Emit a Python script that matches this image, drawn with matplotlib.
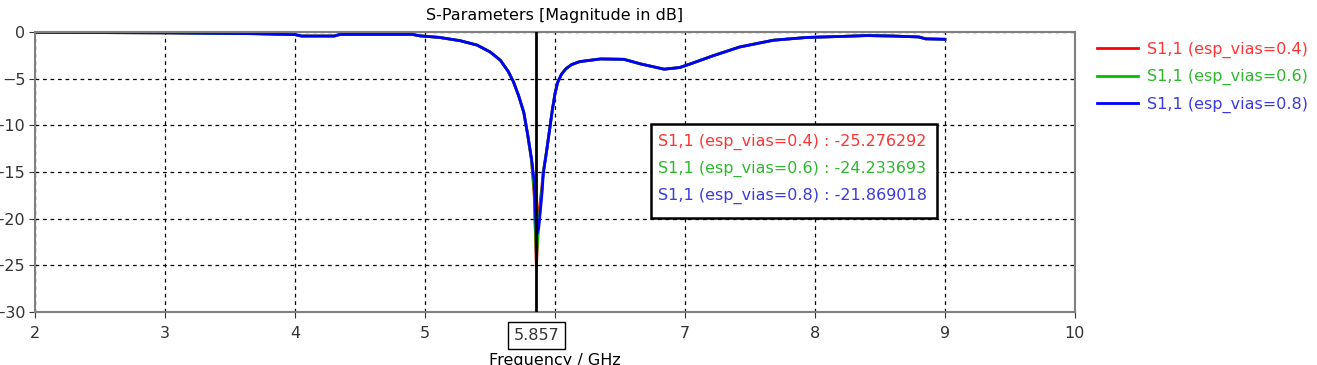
import numpy as np
import matplotlib
matplotlib.use("Agg")
import matplotlib.pyplot as plt
from matplotlib.patches import Rectangle

# frequency points (GHz) shared by the three sweeps
freq = [2.0, 2.5, 3.0, 3.3, 3.7, 4.0, 4.05, 4.3, 4.35, 4.9, 4.96, 5.11, 5.27,
        5.4, 5.5, 5.58, 5.64, 5.68, 5.72, 5.76, 5.79, 5.82, 5.84, 5.857, 5.875,
        5.9, 5.91, 5.935, 5.96, 5.98, 6.0, 6.02, 6.05, 6.085, 6.13, 6.19, 6.35,
        6.53, 6.66, 6.84, 6.96, 7.04, 7.22, 7.42, 7.68, 7.94, 8.19, 8.4, 8.6,
        8.8, 8.85, 9.0]

# |S11| in dB (the three sweeps only differ in the dip)
s11_04 = [0.0, -0.03, -0.06, -0.1, -0.15, -0.25, -0.4, -0.4, -0.22, -0.22,
          -0.38, -0.55, -0.9, -1.37, -2.1, -3.0, -4.2, -5.3, -6.8, -8.6, -11.0,
          -13.8, -17.5, -25.276292, -19.5, -16.5, -15.0, -12.8, -10.3, -8.3,
          -6.6, -5.4, -4.5, -3.9, -3.45, -3.15, -2.86, -2.9, -3.4, -3.96,
          -3.78, -3.4, -2.5, -1.58, -0.85, -0.55, -0.45, -0.35, -0.4, -0.5,
          -0.7, -0.75]
s11_06 = [0.0, -0.03, -0.06, -0.1, -0.15, -0.25, -0.4, -0.4, -0.22, -0.22,
          -0.38, -0.55, -0.9, -1.37, -2.1, -3.0, -4.2, -5.3, -6.8, -8.6, -11.0,
          -13.8, -17.0, -24.233693, -20.5, -16.8, -15.0, -12.8, -10.3, -8.3,
          -6.6, -5.4, -4.5, -3.9, -3.45, -3.15, -2.86, -2.9, -3.4, -3.96,
          -3.78, -3.4, -2.5, -1.58, -0.85, -0.55, -0.45, -0.35, -0.4, -0.5,
          -0.7, -0.75]
s11_08 = [0.0, -0.03, -0.06, -0.1, -0.15, -0.25, -0.4, -0.4, -0.22, -0.22,
          -0.38, -0.55, -0.9, -1.37, -2.1, -3.0, -4.2, -5.3, -6.8, -8.6, -11.0,
          -13.6, -16.0, -21.869018, -21.0, -17.3, -15.2, -12.8, -10.3, -8.3,
          -6.6, -5.4, -4.5, -3.9, -3.45, -3.15, -2.86, -2.9, -3.4, -3.96,
          -3.78, -3.4, -2.5, -1.58, -0.85, -0.55, -0.45, -0.35, -0.4, -0.5,
          -0.7, -0.75]

labels = ["S1,1 (esp_vias=0.4)", "S1,1 (esp_vias=0.6)", "S1,1 (esp_vias=0.8)"]
marker_values = [-25.276292, -24.233693, -21.869018]
marker_f = 5.857

line_colors = ["#ff0000", "#00c000", "#0000ff"]
text_colors = ["#ff3535", "#2db82d", "#3a3ae0"]

fs = 11.5

fig = plt.figure(figsize=(13.17, 3.65), dpi=100)
ax = fig.add_axes([0.0266, 0.146, 0.7896, 0.7655])

for y, c, lab in zip([s11_04, s11_06, s11_08], line_colors, labels):
    ax.plot(freq, y, color=c, lw=2, label=lab)

ax.axvline(marker_f, color="black", lw=2, zorder=5)

ax.set_xlim(2, 10)
ax.set_ylim(-30, 0)
ax.set_xticks([2, 3, 4, 5, 6, 7, 8, 9, 10])
ax.set_xticklabels(["2", "3", "4", "5", "", "7", "8", "9", "10"])
ax.set_yticks([0, -5, -10, -15, -20, -25, -30])
ax.tick_params(labelsize=fs, colors="#333333", length=4, direction="out")
ax.tick_params(axis="y", pad=3)
ax.tick_params(axis="x", pad=6)
ax.grid(True, color="black", lw=0.9, linestyle=(0, (3, 3)))
for s in ax.spines.values():
    s.set_color("#808080")
    s.set_linewidth(1.5)

ax.set_title("S-Parameters [Magnitude in dB]", fontsize=fs, pad=9)
ax.set_xlabel("Frequency / GHz", fontsize=fs, labelpad=9)

# boxed marker label on the x axis
ax.text(marker_f, -0.085, "5.857", transform=ax.get_xaxis_transform(),
        ha="center", va="center", fontsize=fs, color="#333333",
        bbox=dict(boxstyle="square,pad=0.35", fc="white", ec="black", lw=1))

# marker readout box
ax.add_patch(Rectangle((0.592, 0.335), 0.275, 0.337, transform=ax.transAxes,
                       fc="white", ec="black", lw=1.8, zorder=6))
readout = ["{} : {:.6f}".format(l, v) for l, v in zip(labels, marker_values)]
for i, (t, c) in enumerate(zip(readout, text_colors)):
    ax.text(0.599, 0.607 - i * 0.0965, t, transform=ax.transAxes, ha="left",
            va="center", fontsize=fs, color=c, zorder=7)

leg = fig.legend(loc="upper left", bbox_to_anchor=(0.822, 0.925),
                 frameon=False, fontsize=fs, handlelength=2.6,
                 labelspacing=0.7, handletextpad=0.55)
for t, c in zip(leg.get_texts(), text_colors):
    t.set_color(c)

fig.savefig("out.png", dpi=100)
